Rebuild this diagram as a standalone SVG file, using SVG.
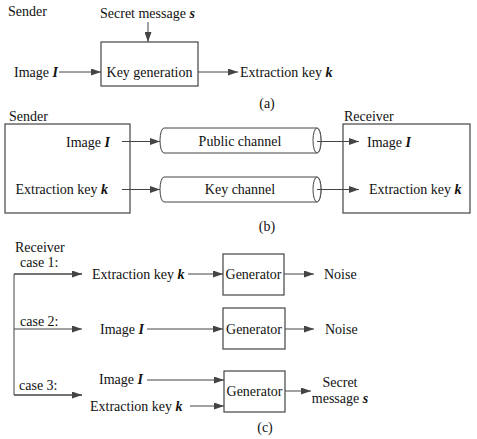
<svg xmlns="http://www.w3.org/2000/svg" width="477" height="439" viewBox="0 0 477 439">
<style>
text{font-family:"Liberation Serif","Times New Roman",serif;font-size:14px;fill:#111}
.v{font-weight:bold;font-style:italic}
.box{fill:#fff;stroke:#444;stroke-width:1.2}
.ln{fill:none;stroke:#444;stroke-width:1}
.cy{fill:#fff;stroke:#444;stroke-width:1}
</style>
<defs>
<marker id="ah" markerUnits="userSpaceOnUse" markerWidth="10" markerHeight="7" refX="10" refY="3.5" orient="auto">
<path d="M0,0 L10,3.5 L0,7 z" fill="#444"/>
</marker>
</defs>
<rect width="477" height="439" fill="#fff"/>

<g id="part-a">
<text x="8" y="16">Sender</text>
<text x="100" y="18">Secret message <tspan class="v">s</tspan></text>
<text x="14" y="77">Image <tspan class="v">I</tspan></text>
<g id="keygen"><rect class="box" x="101" y="42" width="97" height="44"/>
<text x="149.5" y="77" text-anchor="middle">Key generation</text></g>
<text x="240" y="77">Extraction key <tspan class="v">k</tspan></text>
<text x="267" y="108" text-anchor="middle">(a)</text>
</g>

<g id="part-b">
<g id="sender"><rect class="box" x="5" y="124" width="125" height="89"/>
<text x="9" y="121">Sender</text>
<text x="110" y="147" text-anchor="end">Image <tspan class="v">I</tspan></text>
<text x="108" y="194" text-anchor="end">Extraction key <tspan class="v">k</tspan></text></g>
<g id="public-channel">
<path class="cy" d="M164,128 L317,128 A4,12.5 0 0 1 317,153 L164,153 A4,12.5 0 0 1 164,128 z"/>
<ellipse class="cy" cx="317" cy="140.5" rx="4" ry="12.5"/>
<text x="240" y="146" text-anchor="middle">Public channel</text></g>
<g id="key-channel">
<path class="cy" d="M164,177 L317,177 A4,12.5 0 0 1 317,202 L164,202 A4,12.5 0 0 1 164,177 z"/>
<ellipse class="cy" cx="317" cy="189.5" rx="4" ry="12.5"/>
<text x="240" y="194" text-anchor="middle">Key channel</text></g>
<g id="receiver"><rect class="box" x="343" y="124" width="127" height="89"/>
<text x="344" y="121">Receiver</text>
<text x="367" y="147">Image <tspan class="v">I</tspan></text>
<text x="369" y="194">Extraction key <tspan class="v">k</tspan></text></g>
<text x="267" y="231" text-anchor="middle">(b)</text>
</g>

<g id="part-c">
<text x="15" y="252">Receiver</text>
<text x="20" y="267">case 1:</text>
<text x="20" y="326">case 2:</text>
<text x="19" y="390">case 3:</text>
<text x="92" y="279">Extraction key <tspan class="v">k</tspan></text>
<g id="gen1"><rect class="box" x="223" y="254" width="61" height="41"/>
<text x="253.5" y="279" text-anchor="middle">Generator</text></g>
<text x="324" y="279">Noise</text>
<text x="100" y="334">Image <tspan class="v">I</tspan></text>
<g id="gen2"><rect class="box" x="223" y="308" width="62" height="41"/>
<text x="254" y="334" text-anchor="middle">Generator</text></g>
<text x="325" y="334">Noise</text>
<text x="99" y="384">Image <tspan class="v">I</tspan></text>
<text x="90" y="411">Extraction key <tspan class="v">k</tspan></text>
<g id="gen3"><rect class="box" x="224" y="371" width="61" height="41"/>
<text x="254.5" y="396" text-anchor="middle">Generator</text></g>
<text x="340" y="387" text-anchor="middle">Secret</text>
<text x="340" y="403" text-anchor="middle">message <tspan class="v">s</tspan></text>
<text x="265" y="432" text-anchor="middle">(c)</text>
</g>

<g id="connectors">
<line class="ln" x1="148" y1="22" x2="148" y2="42" marker-end="url(#ah)"/>
<line class="ln" x1="59" y1="72" x2="101" y2="72" marker-end="url(#ah)"/>
<line class="ln" x1="198" y1="72" x2="238" y2="72" marker-end="url(#ah)"/>
<line class="ln" x1="122" y1="141.5" x2="160" y2="141.5" marker-end="url(#ah)"/>
<line class="ln" x1="317" y1="141.5" x2="359" y2="141.5" marker-end="url(#ah)"/>
<line class="ln" x1="122" y1="189.5" x2="160" y2="189.5" marker-end="url(#ah)"/>
<line class="ln" x1="317" y1="189.5" x2="359" y2="189.5" marker-end="url(#ah)"/>
<polyline class="ln" points="82,274 14,274 14,395 82,395"/>
<line class="ln" x1="14" y1="274" x2="82" y2="274" marker-end="url(#ah)"/>
<line class="ln" x1="14" y1="329" x2="82" y2="329" marker-end="url(#ah)"/>
<line class="ln" x1="14" y1="395" x2="82" y2="395" marker-end="url(#ah)"/>
<line class="ln" x1="188" y1="274" x2="223" y2="274" marker-end="url(#ah)"/>
<line class="ln" x1="284" y1="274" x2="314" y2="274" marker-end="url(#ah)"/>
<line class="ln" x1="147" y1="329" x2="223" y2="329" marker-end="url(#ah)"/>
<line class="ln" x1="285" y1="329" x2="314" y2="329" marker-end="url(#ah)"/>
<line class="ln" x1="147" y1="380" x2="224" y2="380" marker-end="url(#ah)"/>
<line class="ln" x1="190" y1="406" x2="224" y2="406" marker-end="url(#ah)"/>
<line class="ln" x1="285" y1="391" x2="311" y2="391" marker-end="url(#ah)"/>
</g>
</svg>
